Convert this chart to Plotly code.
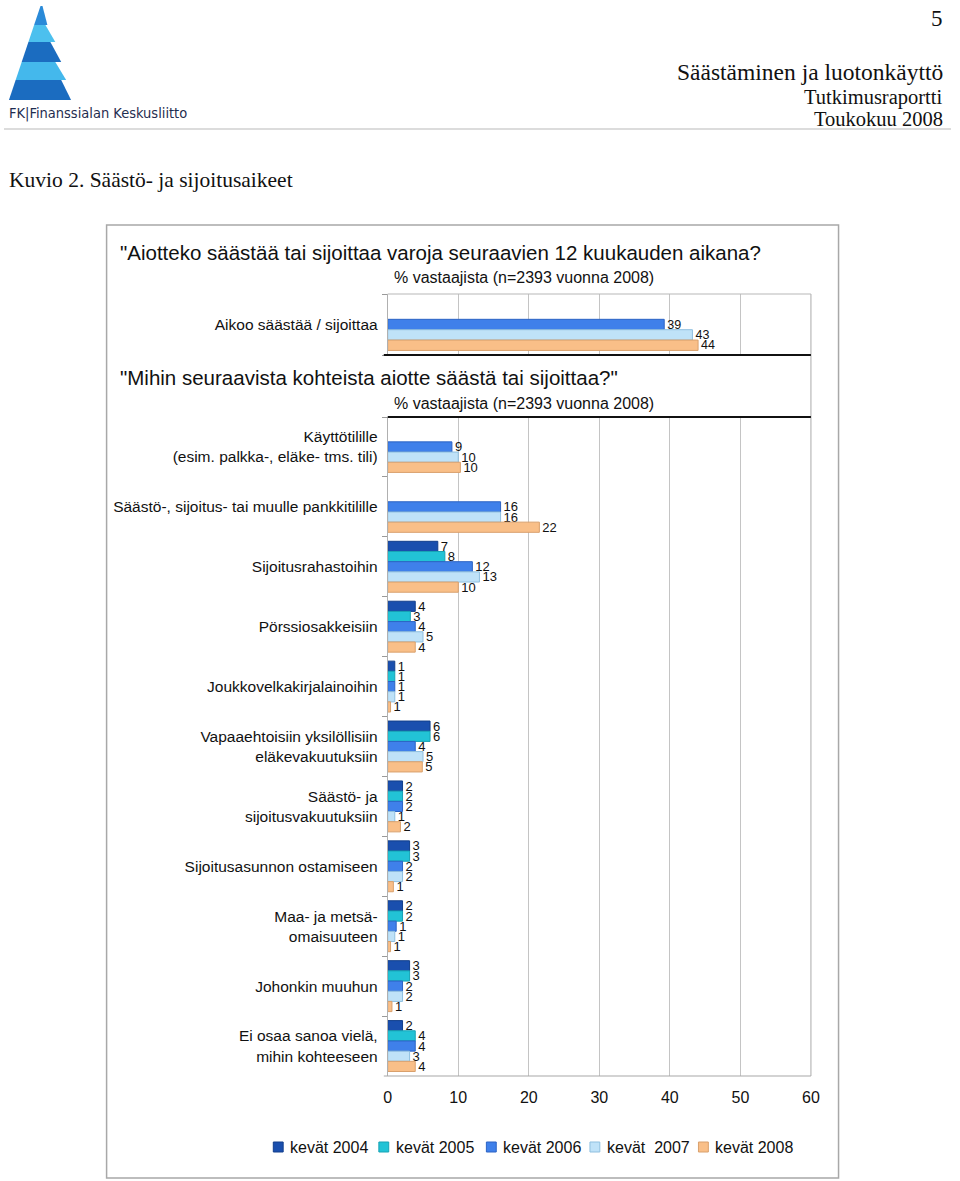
import plotly.graph_objects as go

# --- data ---
years = ["kevät 2004", "kevät 2005", "kevät 2006", "kevät  2007", "kevät 2008"]
colors = ["#1a4fae", "#22c3d6", "#3f80ea", "#bfe2f8", "#f9bf88"]
edges = ["#123f8c", "#17a3b5", "#2c63c4", "#8fbfdf", "#d9a06c"]

top_cat = ["Aikoo säästää / sijoittaa"]
top_vals = [[None], [None], [39.2], [43.2], [44.0]]
top_lbls = [[""], [""], ["39"], ["43"], ["44"]]

cats = [
    "Käyttötilille<br>(esim. palkka-, eläke- tms. tili)",
    "Säästö-, sijoitus- tai muulle pankkitilille",
    "Sijoitusrahastoihin",
    "Pörssiosakkeisiin",
    "Joukkovelkakirjalainoihin",
    "Vapaaehtoisiin yksilöllisiin<br>eläkevakuutuksiin",
    "Säästö- ja<br>sijoitusvakuutuksiin",
    "Sijoitusasunnon ostamiseen",
    "Maa- ja metsä-<br>omaisuuteen",
    "Johonkin muuhun",
    "Ei osaa sanoa vielä,<br>mihin kohteeseen",
]
v2004 = [None, None, 7.1, 3.9, 1.0, 6.0, 2.1, 3.1, 2.1, 3.1, 2.1]
v2005 = [None, None, 8.1, 3.2, 1.0, 6.0, 2.1, 3.1, 2.1, 3.1, 3.9]
v2006 = [9.1, 16.0, 12.0, 3.9, 1.0, 3.9, 2.1, 2.1, 1.2, 2.1, 3.9]
v2007 = [10.0, 16.0, 13.0, 5.0, 1.0, 5.0, 1.0, 2.1, 1.0, 2.1, 3.1]
v2008 = [10.3, 21.5, 10.0, 3.9, 0.4, 4.9, 1.8, 0.8, 0.4, 0.6, 3.9]
l2004 = ["", "", "7", "4", "1", "6", "2", "3", "2", "3", "2"]
l2005 = ["", "", "8", "3", "1", "6", "2", "3", "2", "3", "4"]
l2006 = ["9", "16", "12", "4", "1", "4", "2", "2", "1", "2", "4"]
l2007 = ["10", "16", "13", "5", "1", "5", "1", "2", "1", "2", "3"]
l2008 = ["10", "22", "10", "4", "1", "5", "2", "1", "1", "1", "4"]
main_vals = [v2004, v2005, v2006, v2007, v2008]
main_lbls = [l2004, l2005, l2006, l2007, l2008]
xticks = [0, 10, 20, 30, 40, 50, 60]

W, H = 960, 1181
def px(x): return x / W
def py(y): return 1 - y / H

SANS = "Liberation Sans, Arial, Helvetica, sans-serif"
SERIF = "Liberation Serif, Times New Roman, serif"

fig = go.Figure()
for i in range(5):
    fig.add_trace(go.Bar(
        y=top_cat, x=top_vals[i], orientation="h", xaxis="x", yaxis="y",
        marker=dict(color=colors[i], line=dict(color=edges[i], width=1)),
        text=top_lbls[i], textposition="outside", cliponaxis=False,
        constraintext="none", textfont=dict(size=12.5, color="#111", family=SANS),
        showlegend=False, hoverinfo="skip"))
for i in range(5):
    fig.add_trace(go.Bar(
        y=cats, x=main_vals[i], orientation="h", xaxis="x2", yaxis="y2",
        name=years[i], showlegend=False,
        marker=dict(color=colors[i], line=dict(color=edges[i], width=1)),
        text=main_lbls[i], textposition="outside", cliponaxis=False,
        constraintext="none", textfont=dict(size=13, color="#111", family=SANS)))

axis_x = dict(range=[0, 60], tickvals=xticks, showgrid=True, gridcolor="#c4c4c4",
              gridwidth=1.2, zeroline=False, showline=False)
axis_y = dict(type="category", autorange="reversed", tickson="boundaries",
              ticks="outside", ticklen=5, tickcolor="#9a9a9a", showline=True,
              linecolor="#b0b0b0", linewidth=1, ticklabelstandoff=6,
              tickfont=dict(family=SANS, size=15.5, color="#111"))

fig.update_layout(
    width=W, height=H, autosize=False, margin=dict(l=0, r=0, t=0, b=0),
    paper_bgcolor="white", plot_bgcolor="white",
    barmode="group", bargap=0.15, bargroupgap=0,
    xaxis=dict(axis_x, domain=[px(389), px(818)], anchor="y", showticklabels=False),
    yaxis=dict(axis_y, domain=[py(355), py(294)], anchor="x"),
    xaxis2=dict(axis_x, domain=[px(389), px(818)], anchor="y2",
                tickfont=dict(family=SANS, size=16, color="#111"),
                ticks="", ticklabelstandoff=10),
    yaxis2=dict(axis_y, domain=[py(1076), py(417)], anchor="x2"),
    font=dict(family=SANS),
)

shapes = []
# chart frame borders
shapes.append(dict(type="line", xref="paper", yref="paper", x0=px(389), x1=px(818),
                   y0=py(294), y1=py(294), line=dict(color="#b8b8b8", width=1.2)))
shapes.append(dict(type="line", xref="paper", yref="paper", x0=px(818), x1=px(818),
                   y0=py(294), y1=py(1076), line=dict(color="#b8b8b8", width=1.2)))
shapes.append(dict(type="line", xref="paper", yref="paper", x0=px(385), x1=px(818),
                   y0=py(355), y1=py(355), line=dict(color="#111", width=2)))
shapes.append(dict(type="line", xref="paper", yref="paper", x0=px(389), x1=px(818),
                   y0=py(417), y1=py(417), line=dict(color="#111", width=2)))
shapes.append(dict(type="line", xref="paper", yref="paper", x0=px(385), x1=px(818),
                   y0=py(1076), y1=py(1076), line=dict(color="#a8a8a8", width=1.2)))
# outer box and header rule
shapes.append(dict(type="rect", xref="paper", yref="paper", x0=px(104), x1=px(846),
                   y0=py(1178), y1=py(225), line=dict(color="#a8a8a8", width=1.5)))
shapes.append(dict(type="line", xref="paper", yref="paper", x0=0, x1=1,
                   y0=py(129), y1=py(129), line=dict(color="#d0d0d0", width=1.5)))

# logo: stylised pyramid bands
def lx(y):
    return 37 - (y - 6) * 32 / 94
bands = [(6, 25, 39, 44, "#2a8ad8"), (25, 42, 42, 52, "#4cc0ee"),
         (42, 62, 47, 58, "#1b6cc0"), (62, 80, 52, 63, "#44b8ec"),
         (80, 100, 58, 68, "#1b6cc0")]
for y0, y1, r0, r1, c in bands:
    path = "M{},{} L{},{} L{},{} L{},{} Z".format(
        px(lx(y0)), py(y0), px(r0), py(y0), px(r1), py(y1), px(lx(y1)), py(y1))
    shapes.append(dict(type="path", xref="paper", yref="paper", path=path,
                       fillcolor=c, line=dict(width=0)))

ann = [
    dict(text="FK|Finanssialan Keskusliitto", x=px(3), y=py(113), xanchor="left",
         font=dict(family="DejaVu Sans Condensed, Liberation Sans Narrow, Arial Narrow, sans-serif",
                   size=14.5, color="#1f2d50")),
    dict(text="5", x=px(954), y=py(18), xanchor="right",
         font=dict(family=SERIF, size=23, color="#111")),
    dict(text="Säästäminen ja luotonkäyttö", x=px(954), y=py(72), xanchor="right",
         font=dict(family=SERIF, size=23.5, color="#111")),
    dict(text="Tutkimusraportti", x=px(954), y=py(97), xanchor="right",
         font=dict(family=SERIF, size=20.5, color="#111")),
    dict(text="Toukokuu 2008", x=px(954), y=py(119), xanchor="right",
         font=dict(family=SERIF, size=20.5, color="#111")),
    dict(text="Kuvio 2. Säästö- ja sijoitusaikeet", x=px(3), y=py(180), xanchor="left",
         font=dict(family=SERIF, size=21.5, color="#111")),
    dict(text="\"Aiotteko säästää tai sijoittaa varoja seuraavien 12 kuukauden aikana?",
         x=px(116), y=py(252), xanchor="left", font=dict(family=SANS, size=20.5, color="#111")),
    dict(text="% vastaajista (n=2393 vuonna 2008)", x=px(527), y=py(277), xanchor="center",
         font=dict(family=SANS, size=16, color="#111")),
    dict(text="\"Mihin seuraavista kohteista aiotte säästä tai sijoittaa?\"",
         x=px(116), y=py(378), xanchor="left", font=dict(family=SANS, size=20.5, color="#111")),
    dict(text="% vastaajista (n=2393 vuonna 2008)", x=px(527), y=py(404), xanchor="center",
         font=dict(family=SANS, size=16, color="#111")),
]

# legend row drawn under the chart
leg_x = [273, 380, 489, 594, 704]
for i, name in enumerate(years):
    shapes.append(dict(type="rect", xref="paper", yref="paper",
                       x0=px(leg_x[i]), x1=px(leg_x[i] + 10), y0=py(1152), y1=py(1142),
                       fillcolor=colors[i], line=dict(color=edges[i], width=1)))
    ann.append(dict(text=name.replace("  ", "&nbsp; "), x=px(leg_x[i] + 15), y=py(1147),
                    xanchor="left", font=dict(family=SANS, size=16, color="#111")))

for a in ann:
    a.update(xref="paper", yref="paper", yanchor="middle", showarrow=False)
fig.update_layout(shapes=shapes, annotations=ann)

fig.write_html("out.html", config={"displayModeBar": False, "responsive": False},
               post_script=(
                   "document.documentElement.style.overflow='hidden';"
                   "document.body.style.margin='0';"
                   "document.body.style.overflow='hidden';"
                   "var gd=document.getElementById('{plot_id}');"
                   "gd.style.width='960px';"
                   "Plotly.relayout(gd, {width: 960, height: 1181});"))
